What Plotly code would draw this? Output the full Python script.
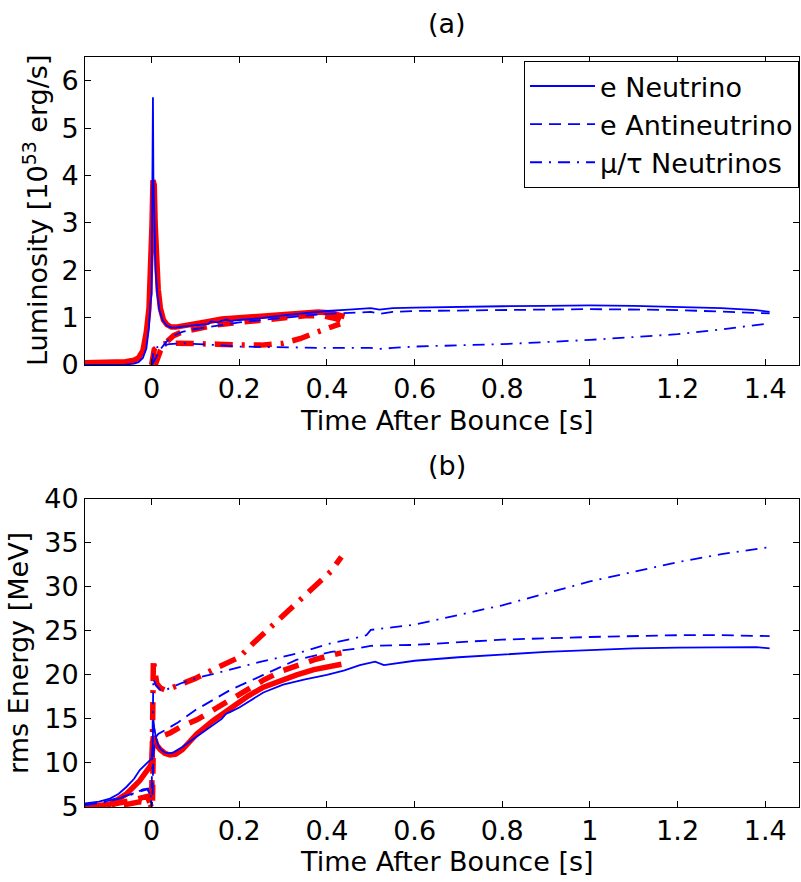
import plotly.graph_objects as go

# ---------------- data ----------------
# Blue model (run to ~1.41 s)
b_nue_L_t = [-0.152, -0.10, -0.06, -0.04, -0.03, -0.02, -0.012, -0.006, -0.003, 0.0, 0.002, 0.003, 0.004,
             0.006, 0.009, 0.013, 0.018, 0.025, 0.035, 0.045, 0.055, 0.07, 0.09, 0.11, 0.13, 0.135, 0.15,
             0.17, 0.18, 0.2, 0.25, 0.3, 0.35, 0.4, 0.45, 0.5, 0.52, 0.55, 0.6, 0.7, 0.8, 0.9, 1.0, 1.1,
             1.2, 1.3, 1.38, 1.41]
b_nue_L = [0.0, 0.0, 0.01, 0.03, 0.06, 0.15, 0.35, 0.8, 1.3, 1.5, 3.5, 5.65, 4.0,
           2.8, 2.0, 1.5, 1.15, 0.95, 0.83, 0.79, 0.79, 0.81, 0.83, 0.85, 0.87, 0.92, 0.9,
           0.96, 0.93, 0.95, 0.99, 1.05, 1.1, 1.14, 1.17, 1.2, 1.17, 1.2, 1.21, 1.23, 1.24, 1.25, 1.26, 1.25,
           1.23, 1.2, 1.16, 1.12]

b_anue_L_t = [0.0, 0.004, 0.008, 0.012, 0.02, 0.03, 0.04, 0.05, 0.07, 0.1, 0.13, 0.16, 0.2, 0.25, 0.3,
              0.35, 0.4, 0.45, 0.5, 0.52, 0.55, 0.6, 0.8, 1.0, 1.2, 1.3, 1.41]
b_anue_L = [0.0, 0.05, 0.12, 0.2, 0.33, 0.45, 0.55, 0.62, 0.7, 0.76, 0.8, 0.85, 0.9, 0.95, 1.0,
            1.04, 1.08, 1.1, 1.12, 1.08, 1.12, 1.14, 1.16, 1.18, 1.16, 1.13, 1.09]

b_numu_L_t = [0.0, 0.002, 0.004, 0.008, 0.02, 0.04, 0.07, 0.1, 0.15, 0.2, 0.3, 0.4, 0.5, 0.52, 0.55,
              0.6, 0.8, 1.0, 1.2, 1.3, 1.41]
b_numu_L = [0.0, 0.1, 0.3, 0.36, 0.4, 0.44, 0.46, 0.45, 0.42, 0.39, 0.37, 0.36, 0.36, 0.34, 0.36,
            0.39, 0.44, 0.53, 0.65, 0.75, 0.88]

b_nue_E_t = [-0.152, -0.12, -0.095, -0.075, -0.057, -0.04, -0.027, -0.015, -0.004, 0.0, 0.002, 0.004,
             0.006, 0.01, 0.015, 0.02, 0.03, 0.04, 0.05, 0.07, 0.1, 0.13, 0.16, 0.17, 0.18, 0.2, 0.255,
             0.3, 0.35, 0.4, 0.44, 0.475, 0.5, 0.51, 0.53, 0.6, 0.7, 0.8, 0.9, 1.0, 1.1, 1.2, 1.3, 1.38, 1.41]
b_nue_E = [5.4, 5.6, 5.95, 6.5, 7.3, 8.2, 9.2, 9.8, 10.3, 10.5, 11.5, 14.9,
           14.0, 12.8, 12.0, 11.6, 11.2, 11.1, 11.2, 11.8, 12.9, 13.9, 15.0, 15.6, 15.8, 16.3, 18.0,
           18.9, 19.5, 20.0, 20.5, 21.1, 21.4, 21.5, 21.1, 21.6, 22.0, 22.3, 22.6, 22.8, 23.0, 23.1, 23.15, 23.15, 23.0]

b_anue_E_t = [-0.152, -0.1, -0.05, -0.02, -0.01, -0.004, 0.0, 0.002, 0.004, 0.008, 0.015, 0.03, 0.06,
              0.1, 0.18, 0.255, 0.33, 0.41, 0.47, 0.5, 0.6, 0.8, 1.0, 1.2, 1.3, 1.41]
b_anue_E = [5.3, 5.7, 6.4, 6.9, 7.0, 6.5, 5.0, 6.0, 11.0, 12.8, 13.3, 13.7, 14.6,
            16.0, 18.3, 20.0, 21.7, 22.6, 23.0, 23.3, 23.4, 24.0, 24.3, 24.5, 24.5, 24.4]

b_numu_E_t = [-0.152, -0.1, -0.05, -0.02, -0.008, -0.003, 0.0, 0.002, 0.004, 0.006, 0.01, 0.02, 0.03,
              0.045, 0.07, 0.1, 0.18, 0.25, 0.33, 0.41, 0.475, 0.49, 0.5, 0.6, 0.8, 1.0, 1.2, 1.3, 1.41]
b_numu_E = [5.2, 5.6, 6.3, 7.0, 7.1, 6.1, 6.5, 12.0, 19.6, 19.3, 18.8, 18.3, 18.2,
            18.6, 19.1, 19.6, 20.6, 21.5, 22.4, 23.6, 24.3, 24.5, 25.1, 25.7, 27.9, 30.6, 32.8, 33.7, 34.5]

# Red model (run to ~0.44 s)
r_nue_L_t = [-0.152, -0.10, -0.06, -0.04, -0.03, -0.02, -0.012, -0.006, -0.002, 0.001, 0.003, 0.006,
             0.008, 0.011, 0.015, 0.02, 0.027, 0.035, 0.045, 0.055, 0.07, 0.1, 0.13, 0.16, 0.2, 0.25,
             0.3, 0.35, 0.38, 0.41, 0.43, 0.44]
r_nue_L = [0.05, 0.05, 0.07, 0.1, 0.15, 0.3, 0.7, 1.2, 2.0, 3.0, 3.9, 3.8,
           3.0, 2.2, 1.6, 1.2, 0.95, 0.85, 0.8, 0.8, 0.82, 0.86, 0.92, 0.97, 1.0, 1.04,
           1.08, 1.11, 1.12, 1.1, 1.06, 1.02]

r_anue_L_t = [0.008, 0.012, 0.02, 0.03, 0.04, 0.05, 0.07, 0.1, 0.15, 0.2, 0.25, 0.3, 0.35, 0.39, 0.42, 0.44]
r_anue_L = [0.0, 0.1, 0.3, 0.45, 0.55, 0.62, 0.7, 0.76, 0.85, 0.9, 0.95, 1.0, 1.04, 1.04, 0.98, 0.9]

r_numu_L_t = [0.0, 0.003, 0.006, 0.015, 0.03, 0.06, 0.1, 0.15, 0.2, 0.25, 0.3, 0.34, 0.37, 0.4, 0.43]
r_numu_L = [0.0, 0.2, 0.33, 0.4, 0.45, 0.46, 0.46, 0.44, 0.42, 0.42, 0.46, 0.56, 0.67, 0.78, 0.87]

r_nue_E_t = [-0.152, -0.095, -0.057, -0.027, -0.004, 0.0, 0.002, 0.004, 0.008, 0.012, 0.02, 0.03, 0.042,
             0.055, 0.07, 0.103, 0.14, 0.179, 0.22, 0.255, 0.3, 0.331, 0.37, 0.407, 0.433]
r_nue_E = [5.0, 5.3, 6.5, 8.0, 9.6, 10.0, 11.5, 13.0, 12.6, 12.0, 11.5, 11.1, 10.9,
           11.0, 11.5, 13.3, 14.8, 16.2, 17.6, 18.6, 19.5, 20.0, 20.6, 21.0, 21.2]

r_anue_E_t = [-0.152, -0.1, -0.05, -0.03, -0.01, 0.0, 0.002, 0.004, 0.008, 0.012, 0.02, 0.042, 0.07,
              0.103, 0.14, 0.179, 0.22, 0.255, 0.3, 0.331, 0.37, 0.407, 0.433]
r_anue_E = [5.0, 5.2, 5.7, 6.0, 6.2, 5.0, 5.5, 13.0, 12.5, 12.6, 13.0, 13.4, 14.2,
            14.9, 16.0, 17.1, 18.3, 19.4, 20.5, 21.1, 21.7, 22.2, 22.5]

r_numu_E_t = [-0.152, -0.1, -0.057, -0.027, -0.005, 0.0, 0.002, 0.004, 0.007, 0.012, 0.02, 0.03, 0.045,
              0.07, 0.1, 0.14, 0.17, 0.2, 0.23, 0.28, 0.32, 0.37, 0.41, 0.433]
r_numu_E = [5.0, 5.1, 5.3, 5.6, 5.4, 5.0, 13.0, 21.8, 20.5, 19.0, 18.5, 18.3, 18.5,
            19.0, 19.6, 20.6, 21.3, 22.0, 23.5, 25.8, 27.8, 30.0, 31.8, 33.4]

legend_names = ["e Neutrino", "e Antineutrino", "\u03bc/\u03c4 Neutrinos"]
x_tickvals = [0, 0.2, 0.4, 0.6, 0.8, 1.0, 1.2, 1.4]
x_ticktext = ["0", "0.2", "0.4", "0.6", "0.8", "1", "1.2", "1.4"]
lum_tickvals = [0, 1, 2, 3, 4, 5, 6]
en_tickvals = [5, 10, 15, 20, 25, 30, 35, 40]

# ---------------- styles ----------------
BLUE = "#0000FF"
RED = "#FF0000"
FONT = "'DejaVu Sans', sans-serif"
FS = 27

blue_dash = ["solid", "12px,7px", "12px,7px,2px,7px"]
red_dash = ["solid", "16px,11px", "18px,9px,3px,9px"]

fig = go.Figure()

red_L = [(r_nue_L_t, r_nue_L), (r_anue_L_t, r_anue_L), (r_numu_L_t, r_numu_L)]
red_E = [(r_nue_E_t, r_nue_E), (r_anue_E_t, r_anue_E), (r_numu_E_t, r_numu_E)]
blue_L = [(b_nue_L_t, b_nue_L), (b_anue_L_t, b_anue_L), (b_numu_L_t, b_numu_L)]
blue_E = [(b_nue_E_t, b_nue_E), (b_anue_E_t, b_anue_E), (b_numu_E_t, b_numu_E)]

for i, (t, v) in enumerate(red_L):
    fig.add_trace(go.Scatter(x=t, y=v, mode="lines", xaxis="x", yaxis="y", showlegend=False,
                             line=dict(color=RED, width=5.5, dash=red_dash[i])))
for i, (t, v) in enumerate(red_E):
    fig.add_trace(go.Scatter(x=t, y=v, mode="lines", xaxis="x2", yaxis="y2", showlegend=False,
                             line=dict(color=RED, width=5.5, dash=red_dash[i])))
for i, (t, v) in enumerate(blue_L):
    fig.add_trace(go.Scatter(x=t, y=v, mode="lines", xaxis="x", yaxis="y", name=legend_names[i],
                             showlegend=True, line=dict(color=BLUE, width=1.8, dash=blue_dash[i])))
for i, (t, v) in enumerate(blue_E):
    fig.add_trace(go.Scatter(x=t, y=v, mode="lines", xaxis="x2", yaxis="y2", showlegend=False,
                             line=dict(color=BLUE, width=1.8, dash=blue_dash[i])))

axis_common = dict(showline=True, linecolor="black", linewidth=1, mirror="ticks", ticks="inside",
                   ticklen=6, tickcolor="black", tickwidth=1, showgrid=False, zeroline=False,
                   tickfont=dict(family=FONT, size=FS, color="black"))

XR = [-0.152, 1.477]
fig.update_layout(
    width=801, height=882,
    margin=dict(l=85, r=2, t=57, b=75),
    paper_bgcolor="white", plot_bgcolor="white",
    font=dict(family=FONT, size=FS, color="black"),
    xaxis=dict(domain=[0, 1], range=XR, anchor="y", tickvals=x_tickvals, ticktext=x_ticktext, **axis_common),
    yaxis=dict(domain=[0.5893, 1], range=[0, 6.5], anchor="x", tickvals=lum_tickvals, **axis_common),
    xaxis2=dict(domain=[0, 1], range=XR, anchor="y2", tickvals=x_tickvals, ticktext=x_ticktext, **axis_common),
    yaxis2=dict(domain=[0, 0.4111], range=[5, 40], anchor="x2", tickvals=en_tickvals, **axis_common),
    legend=dict(x=1, xanchor="right", y=0.9947, yanchor="top", bgcolor="white", bordercolor="black",
                borderwidth=1, font=dict(family=FONT, size=27, color="black"), tracegroupgap=0,
                itemwidth=65),
    showlegend=True,
)

def px_x(p):
    return (p - 85) / 714.0

def px_y(p):
    return (807 - p) / 750.0

ann = [
    dict(text="(a)", x=px_x(447), y=px_y(23)),
    dict(text="(b)", x=px_x(447), y=px_y(465)),
    dict(text="Time After Bounce [s]", x=px_x(447), y=px_y(421)),
    dict(text="Time After Bounce [s]", x=px_x(447), y=px_y(862)),
    dict(text="Luminosity [10<sup>53</sup> erg/s]", x=px_x(35), y=px_y(211), textangle=-90),
    dict(text="rms Energy [MeV]", x=px_x(18), y=px_y(653), textangle=-90),
]
for a in ann:
    fig.add_annotation(xref="paper", yref="paper", showarrow=False, xanchor="center", yanchor="middle",
                       font=dict(family=FONT, size=FS, color="black"), **a)

fig.write_html("out.html")
